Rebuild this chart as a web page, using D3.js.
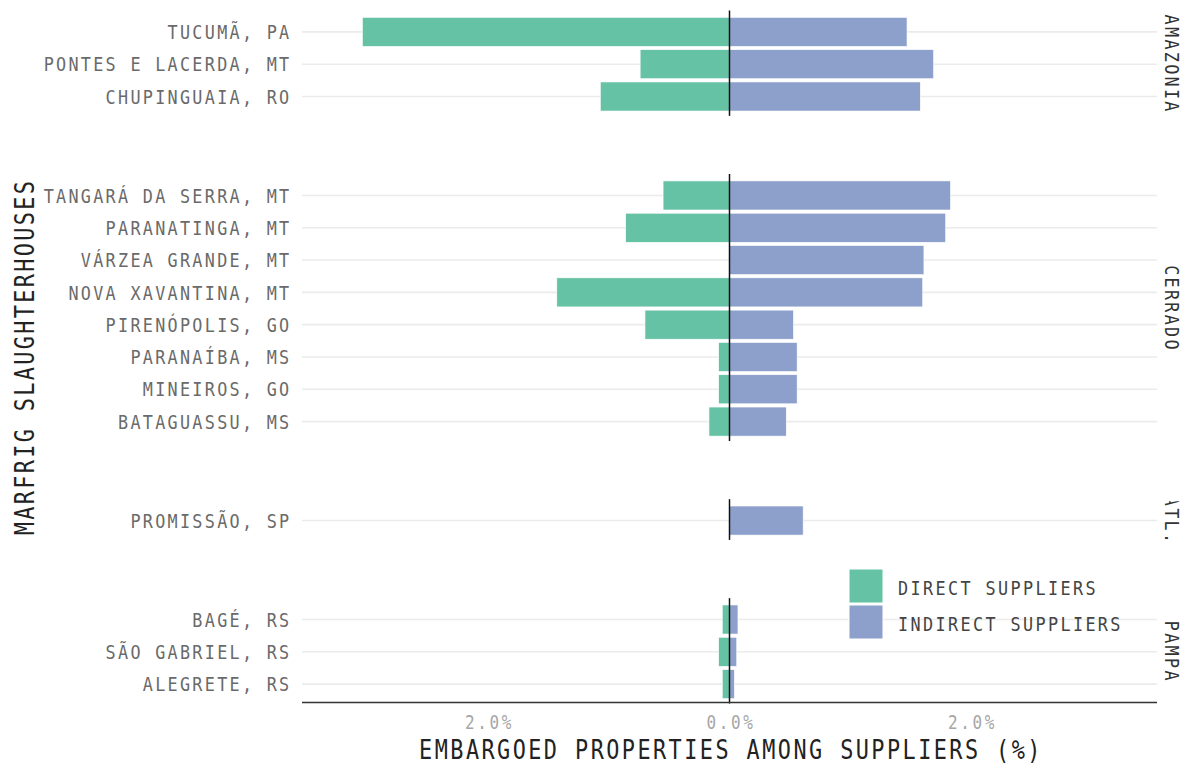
<!DOCTYPE html>
<html>
<head>
<meta charset="utf-8">
<script src="https://cdn.jsdelivr.net/npm/d3@7"></script>
<style>
  html, body { margin: 0; padding: 0; background: #fff; }
  svg { display: block; }
</style>
</head>
<body>
<svg id="chart" width="1190" height="765"></svg>
<script>
// ---- data ----
const slaughterhouses = [
  "TUCUMÃ, PA", "PONTES E LACERDA, MT", "CHUPINGUAIA, RO",
  "TANGARÁ DA SERRA, MT", "PARANATINGA, MT", "VÁRZEA GRANDE, MT", "NOVA XAVANTINA, MT",
  "PIRENÓPOLIS, GO", "PARANAÍBA, MS", "MINEIROS, GO", "BATAGUASSU, MS",
  "PROMISSÃO, SP",
  "BAGÉ, RS", "SÃO GABRIEL, RS", "ALEGRETE, RS"
];
const biome = [
  "AMAZONIA", "AMAZONIA", "AMAZONIA",
  "CERRADO", "CERRADO", "CERRADO", "CERRADO", "CERRADO", "CERRADO", "CERRADO", "CERRADO",
  "ATL.",
  "PAMPA", "PAMPA", "PAMPA"
];
const biomes = ["AMAZONIA", "CERRADO", "ATL.", "PAMPA"];
const directSuppliers   = [3.04, 0.74, 1.07, 0.55, 0.86, 0.00, 1.43, 0.70, 0.09, 0.09, 0.17, 0.00, 0.06, 0.09, 0.06];
const indirectSuppliers = [1.47, 1.69, 1.58, 1.83, 1.79, 1.61, 1.60, 0.53, 0.56, 0.56, 0.47, 0.61, 0.07, 0.06, 0.04];
const seriesNames = ["DIRECT SUPPLIERS", "INDIRECT SUPPLIERS"];
const xTicks = [-2, 0, 2];
const xTickLabels = ["2.0%", "0.0%", "2.0%"];

// ---- layout ----
const svg = d3.select("#chart");
const W = 1190, H = 765;
const plotL = 302, plotR = 1157, plotT = 12.5, plotB = 703.5;
const gap = 60.2;
const colors = { direct: "#66c2a5", indirect: "#8da0cb" };
const FONT = "'DejaVu Sans Mono', 'Liberation Mono', monospace";
const SX = 0.84;

const x = d3.scaleLinear().domain([-3.54, 3.54]).range([plotL, plotR]);

const counts = biomes.map(b => biome.filter(v => v === b).length);
const units = d3.sum(counts.map(n => n + 0.2));
const step = (plotB - plotT - gap * (biomes.length - 1)) / units;
let cursor = plotT;
const panels = biomes.map((b, i) => {
  const h = (counts[i] + 0.2) * step;
  const p = { biome: b, y0: cursor, y1: cursor + h,
              names: slaughterhouses.filter((s, j) => biome[j] === b) };
  p.y = d3.scalePoint().domain(p.names).range([p.y0 + 0.6 * step, p.y1 - 0.6 * step]);
  cursor += h + gap;
  return p;
});

function mtext(parent, px, py, str, o) {
  const f = o.size, adv = o.adv;
  const ls = adv / SX - 0.602 * f;
  const rot = o.rotate || 0;
  return parent.append("text")
    .attr("transform", `translate(${px},${py}) rotate(${rot}) scale(${SX},1)`)
    .attr("text-anchor", o.anchor || "start")
    .attr("font-family", FONT)
    .attr("font-size", f)
    .attr("letter-spacing", ls)
    .attr("fill", o.fill || "#333")
    .attr("dy", o.dy !== undefined ? o.dy : "0.36em")
    .text(str);
}

const defs = svg.append("defs");

panels.forEach((p, pi) => {
  const g = svg.append("g");
  g.selectAll("line.grid").data(p.names).join("line")
    .attr("x1", plotL).attr("x2", plotR)
    .attr("y1", d => p.y(d)).attr("y2", d => p.y(d))
    .attr("stroke", "#ebebeb").attr("stroke-width", 1.6);

  const bh = step * 0.9;
  const rows = p.names.map(n => {
    const j = slaughterhouses.indexOf(n);
    return { name: n, d: directSuppliers[j], i: indirectSuppliers[j] };
  });
  g.selectAll("rect.direct").data(rows.filter(r => r.d > 0)).join("rect")
    .attr("x", r => x(-r.d)).attr("width", r => x(0) - x(-r.d))
    .attr("y", r => p.y(r.name) - bh / 2).attr("height", bh)
    .attr("fill", colors.direct).attr("stroke", "#fff").attr("stroke-width", 0.6);
  g.selectAll("rect.indirect").data(rows.filter(r => r.i > 0)).join("rect")
    .attr("x", x(0)).attr("width", r => x(r.i) - x(0))
    .attr("y", r => p.y(r.name) - bh / 2).attr("height", bh)
    .attr("fill", colors.indirect).attr("stroke", "#fff").attr("stroke-width", 0.6);

  g.append("line")
    .attr("x1", x(0)).attr("x2", x(0)).attr("y1", p.y0 - 2).attr("y2", p.y1)
    .attr("stroke", "#111").attr("stroke-width", 1.5);

  p.names.forEach(n => {
    mtext(svg, 291.5, p.y(n), n, { size: 20, adv: 12.4, anchor: "end", fill: "#6a6a6a" });
  });

  const cid = "clip" + pi;
  defs.append("clipPath").attr("id", cid).append("rect")
    .attr("x", plotR).attr("y", p.y0).attr("width", W - plotR).attr("height", p.y1 - p.y0);
  const sg = svg.append("g").attr("clip-path", `url(#${cid})`);
  mtext(sg, 1165, (p.y0 + p.y1) / 2, p.biome, { size: 20, adv: 12.4, anchor: "middle", rotate: 90, fill: "#333", dy: "0em" });
});

svg.append("line")
  .attr("x1", plotL).attr("x2", plotR).attr("y1", plotB - 1).attr("y2", plotB - 1)
  .attr("stroke", "#333").attr("stroke-width", 1.5);

xTicks.forEach((t, k) => {
  mtext(svg, x(t) + 1.5, 722, xTickLabels[k], { size: 19, adv: 12.3, anchor: "middle", fill: "#a6a6a6" });
});

mtext(svg, (plotL + plotR) / 2 + 1.5, 750, "EMBARGOED PROPERTIES AMONG SUPPLIERS (%)", { size: 26, adv: 15.6, anchor: "middle", fill: "#222" });
mtext(svg, 25, 357, "MARFRIG SLAUGHTERHOUSES", { size: 26, adv: 15.5, anchor: "middle", rotate: -90, fill: "#222" });

const lg = svg.append("g");
seriesNames.forEach((s, k) => {
  const yy = 569 + k * 36;
  lg.append("rect").attr("x", 849).attr("y", yy).attr("width", 34).attr("height", 34)
    .attr("fill", k === 0 ? colors.direct : colors.indirect)
    .attr("stroke", "#fff").attr("stroke-width", 1);
  mtext(lg, 898, yy + 19, s, { size: 20, adv: 12.5, anchor: "start", fill: "#444" });
});
</script>
</body>
</html>
